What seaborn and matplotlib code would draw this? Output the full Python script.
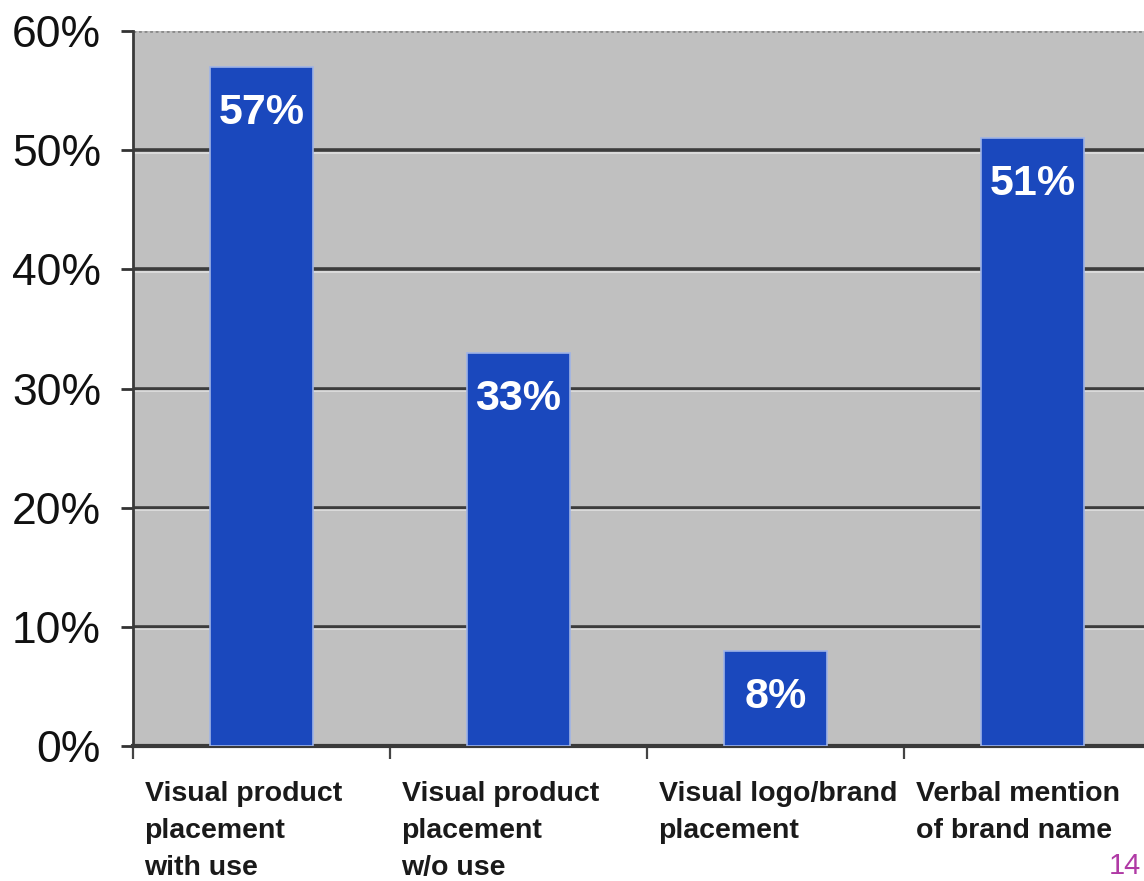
import matplotlib
matplotlib.use("Agg")
import matplotlib.pyplot as plt
import seaborn as sns
import pandas as pd

categories = ["Visual product\nplacement\nwith use",
              "Visual product\nplacement\nw/o use",
              "Visual logo/brand\nplacement",
              "Verbal mention\nof brand name"]
values = [57, 33, 8, 51]
value_labels = ["57%", "33%", "8%", "51%"]
y_ticks = [0, 10, 20, 30, 40, 50, 60]
y_tick_labels = ["0%", "10%", "20%", "30%", "40%", "50%", "60%"]
page_number = "14"

sns.set_style("white")
plt.rcParams['font.family'] = ['Liberation Sans', 'DejaVu Sans']

df = pd.DataFrame({"category": categories, "value": values})

fig = plt.figure(figsize=(11.44, 8.81), dpi=100)
ax = fig.add_axes([133/1144, 1 - 746/881, 1028/1144, 715/881])
ax.set_facecolor("#c0c0c0")

sns.barplot(data=df, x="category", y="value", color="#1a48bd", saturation=1,
            width=0.40, ax=ax, edgecolor="#9fb3e6", linewidth=1.2, zorder=3)

ax.set_xlim(-0.5, 3.5)
ax.set_ylim(0, 60)

# grid
ax.set_yticks(y_ticks)
ax.set_yticklabels(y_tick_labels, fontsize=32)
for y in y_ticks[1:-1]:
    ax.axhline(y, color="#3c3c3c", lw=2.6, zorder=1)
    ax.axhline(y - 0.22, color="#e0e0e0", lw=1.2, zorder=1)
ax.axhline(60, color="#8a8a8a", lw=2, ls=(0, (1, 1)), zorder=1)

# major ticks at category boundaries (marks only), labels on minor ticks
bounds = [i - 0.5 for i in range(len(categories))]
ax.set_xticks(bounds)
ax.set_xticklabels([""] * len(bounds))
label_pos = [b + 0.045 for b in bounds]
ax.set_xticks(label_pos, minor=True)
ax.set_xticklabels(categories, minor=True, fontsize=20.5, fontweight="bold",
                   ha="left", va="top", color="#1a1a1a", linespacing=1.55)
ax.set_xlabel("")
ax.set_ylabel("")

ax.tick_params(axis="y", left=True, length=9, width=2, color="#333333", pad=14,
               labelcolor="#111111")
ax.tick_params(axis="x", which="major", bottom=True, length=9, width=1.6,
               color="#444444")
ax.tick_params(axis="x", which="minor", bottom=True, length=0, pad=25)

for s in ["top", "right"]:
    ax.spines[s].set_visible(False)
ax.spines["left"].set_color("#3a3a3a")
ax.spines["left"].set_linewidth(2)
ax.spines["bottom"].set_color("#3a3a3a")
ax.spines["bottom"].set_linewidth(3)

for i, (v, t) in enumerate(zip(values, value_labels)):
    ax.annotate(t, xy=(i, v), xytext=(0, -33), textcoords="offset points",
                ha="center", va="center", color="white", fontsize=31,
                fontweight="bold", zorder=5)

fig.text(1141/1144, 1 - 866/881, page_number, color="#b03aa5", fontsize=21,
         ha="right", va="center")

fig.savefig("out.png", dpi=100)
